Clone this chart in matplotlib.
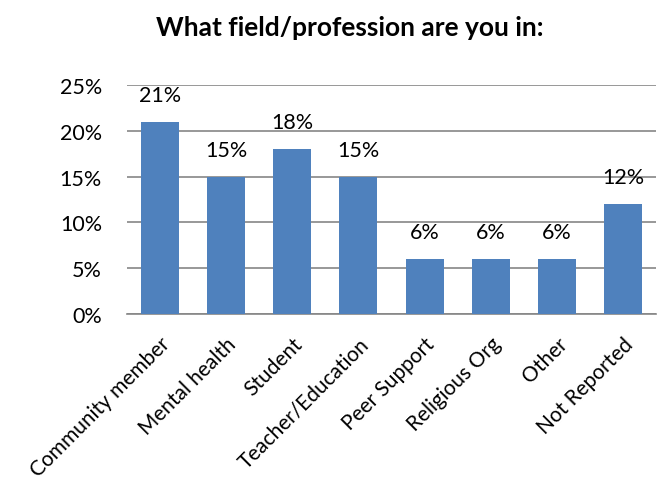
import matplotlib.pyplot as plt

# data
categories = ['Community member', 'Mental health', 'Student', 'Teacher/Education',
              'Peer Support', 'Religious Org', 'Other', 'Not Reported']
shares = [21, 15, 18, 15, 6, 6, 6, 12]
yticks = [0, 5, 10, 15, 20, 25]

plt.rcParams['font.family'] = ['Lato', 'DejaVu Sans']

fig = plt.figure(figsize=(6.62, 4.85), dpi=100)
ax = fig.add_axes([127 / 662, 1 - 315 / 485, 529 / 662, 229 / 485])

x = range(len(categories))
bars = ax.bar(x, shares, width=0.575, color='#4F81BD', zorder=3)

for b, v in zip(bars, shares):
    ax.annotate(f'{v}%', (b.get_x() + b.get_width() / 2, v),
                xytext=(0, 12), textcoords='offset points',
                ha='center', va='bottom', fontsize=15.5, color='black')

ax.set_xlim(-0.5, len(categories) - 0.5)
ax.set_ylim(0, 25)
ax.set_yticks(yticks)
ax.set_yticklabels([f'{t}%' for t in yticks], fontsize=15.5)
ax.yaxis.grid(True, color='#868686', linewidth=1.2, zorder=0)
ax.tick_params(axis='y', length=0, pad=18)
ax.tick_params(axis='x', length=0, pad=14)

ax.set_xticks(list(x))
ax.set_xticklabels(categories, rotation=45, ha='right', rotation_mode='anchor',
                   fontsize=15)

for s in ['top', 'right', 'left']:
    ax.spines[s].set_visible(False)
ax.spines['bottom'].set_color('#868686')
ax.spines['bottom'].set_linewidth(1.2)

fig.text(350 / 662, 1 - 28 / 485, 'What field/profession are you in:',
         ha='center', va='center', fontsize=19, fontweight='bold')

fig.savefig('out.png', dpi=100)
